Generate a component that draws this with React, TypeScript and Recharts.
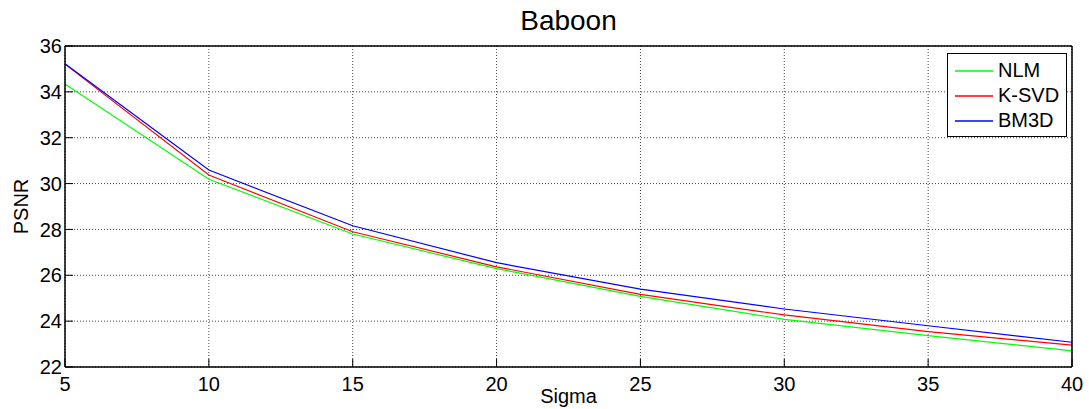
import React from 'react';
import { LineChart, Line, XAxis, YAxis, CartesianGrid, Legend, Label } from 'recharts';

const sigma = [5, 10, 15, 20, 25, 30, 35, 40];
const nlm = [34.34, 30.19, 27.8, 26.29, 25.08, 24.08, 23.37, 22.7];
const ksvd = [35.21, 30.37, 27.9, 26.37, 25.17, 24.27, 23.54, 22.95];
const bm3d = [35.23, 30.59, 28.16, 26.55, 25.4, 24.53, 23.8, 23.08];
const xTicks = [5, 10, 15, 20, 25, 30, 35, 40];
const yTicks = [22, 24, 26, 28, 30, 32, 34, 36];
const seriesNames = ['NLM', 'K-SVD', 'BM3D'];
const seriesColors = ['#00ff00', '#ff0000', '#0000ff'];

const data = sigma.map((s, i) => ({ sigma: s, NLM: nlm[i], 'K-SVD': ksvd[i], BM3D: bm3d[i] }));

const FONT = '"Liberation Sans", Arial, Helvetica, sans-serif';
const tickStyle = { fontSize: 20, fill: '#000', fontFamily: FONT };

const LegendBox = () => (
  <div
    style={{
      border: '1px solid #000',
      background: '#fff',
      width: 118,
      padding: '4px 0 3px 0',
      fontFamily: FONT,
      fontSize: 20,
      color: '#000',
      boxSizing: 'content-box',
    }}
  >
    {seriesNames.map((n, i) => (
      <div key={n} style={{ display: 'flex', alignItems: 'center', height: 25 }}>
        <svg width={38} height={4} style={{ marginLeft: 7, marginRight: 5, display: 'block' }}>
          <line x1={0} y1={2} x2={38} y2={2} stroke={seriesColors[i]} strokeWidth={1.5} />
        </svg>
        <span style={{ lineHeight: '25px' }}>{n}</span>
      </div>
    ))}
  </div>
);

export default function App() {
  return (
    <div style={{ position: 'absolute', left: 0, top: 0 }}>
      <LineChart width={1089} height={409} data={data} margin={{ top: 45, right: 16, bottom: 0, left: 0 }}>
        <CartesianGrid stroke="#444" strokeDasharray="1 2" />
        <XAxis
          dataKey="sigma"
          type="number"
          domain={[5, 40]}
          ticks={xTicks}
          height={42}
          tick={tickStyle}
          tickSize={-8}
          tickMargin={18}
          stroke="#000"
          tickLine={{ stroke: '#000' }}
          axisLine={{ stroke: '#000', strokeWidth: 1.5 }}
          interval={0}
        >
          <Label
            content={(p: any) => (
              <g>
                <text
                  x={p.viewBox.x + p.viewBox.width / 2}
                  y={p.viewBox.y + 36}
                  textAnchor="middle"
                  fontSize={20}
                  fontFamily={FONT}
                  fill="#000"
                >
                  Sigma
                </text>
                <text
                  x={p.viewBox.x + p.viewBox.width / 2}
                  y={30}
                  textAnchor="middle"
                  fontSize={28}
                  fontFamily={FONT}
                  fill="#000"
                >
                  Baboon
                </text>
              </g>
            )}
          />
        </XAxis>
        <XAxis
          xAxisId="t"
          dataKey="sigma"
          type="number"
          orientation="top"
          domain={[5, 40]}
          ticks={xTicks}
          height={1}
          tick={false}
          tickSize={-8}
          stroke="#000"
          tickLine={{ stroke: '#000' }}
          axisLine={{ stroke: '#000', strokeWidth: 1.5 }}
          interval={0}
        />
        <YAxis
          type="number"
          domain={[22, 36]}
          ticks={yTicks}
          width={65}
          tick={tickStyle}
          tickSize={-8}
          tickMargin={11}
          stroke="#000"
          tickLine={{ stroke: '#000' }}
          axisLine={{ stroke: '#000', strokeWidth: 1.5 }}
          interval={0}
        >
          <Label
            content={(p: any) => {
              const cx = 21;
              const cy = p.viewBox.y + p.viewBox.height / 2;
              return (
                <text
                  x={cx}
                  y={cy}
                  transform={`rotate(-90 ${cx} ${cy})`}
                  textAnchor="middle"
                  dominantBaseline="central"
                  fontSize={20}
                  fontFamily={FONT}
                  fill="#000"
                >
                  PSNR
                </text>
              );
            }}
          />
        </YAxis>
        <YAxis
          yAxisId="r"
          orientation="right"
          type="number"
          domain={[22, 36]}
          ticks={yTicks}
          width={1}
          tick={false}
          tickSize={-8}
          stroke="#000"
          tickLine={{ stroke: '#000' }}
          axisLine={{ stroke: '#000', strokeWidth: 1.5 }}
          interval={0}
        />
        <Legend
          layout="vertical"
          align="center"
          verticalAlign="middle"
          content={<LegendBox />}
          wrapperStyle={{ left: 947, top: 53, width: 120, height: 'auto' }}
        />
        {seriesNames.map((n, i) => (
          <Line
            key={n}
            type="linear"
            dataKey={n}
            stroke={seriesColors[i]}
            strokeWidth={1.2}
            dot={false}
            isAnimationActive={false}
          />
        ))}
      </LineChart>
    </div>
  );
}
